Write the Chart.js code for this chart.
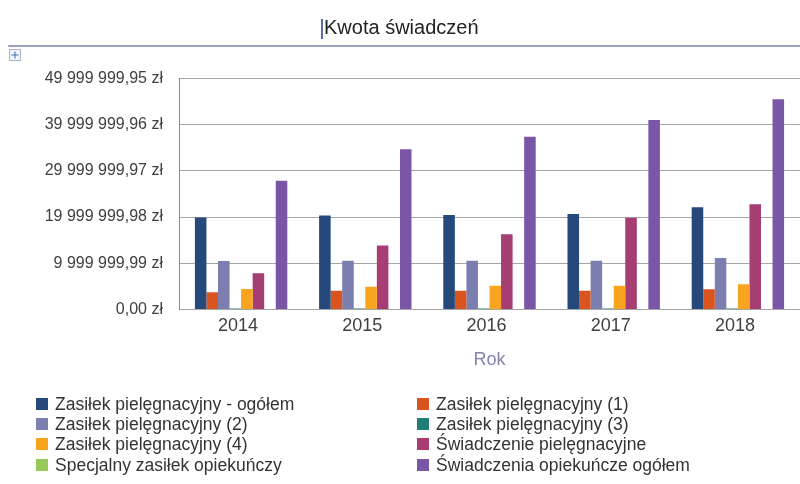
<!DOCTYPE html>
<html>
<head>
<meta charset="utf-8">
<script src="https://cdn.jsdelivr.net/npm/chart.js@4/dist/chart.umd.min.js"></script>
<style>
  html, body { margin: 0; padding: 0; background: #fff; }
  #wrap { position: relative; width: 800px; height: 484px; overflow: hidden; }
  #legend { position: absolute; left: 0; top: 0; width: 800px; height: 484px; pointer-events: none;
            font-family: "Liberation Sans", Arial, sans-serif; font-size: 17.5px; color: #333; }
  .li { position: absolute; height: 20px; line-height: 20px; white-space: nowrap; }
  .li .bx { position: absolute; left: 0; top: 4px; width: 12px; height: 12px; }
  .li .tx { position: absolute; left: 19px; top: 0; }
</style>
</head>
<body>
<div id="wrap">
  <canvas id="c" width="800" height="484"></canvas>
  <div id="legend"></div>
</div>
<script>
const categories = ['2014', '2015', '2016', '2017', '2018'];
const seriesNames = [
  'Zasiłek pielęgnacyjny - ogółem',
  'Zasiłek pielęgnacyjny (1)',
  'Zasiłek pielęgnacyjny (2)',
  'Zasiłek pielęgnacyjny (3)',
  'Zasiłek pielęgnacyjny (4)',
  'Świadczenie pielęgnacyjne',
  'Specjalny zasiłek opiekuńczy',
  'Świadczenia opiekuńcze ogółem'
];
const zpOgolem   = [19900000, 20350000, 20450000, 20650000, 22100000];
const zp1        = [3720000, 4050000, 4070000, 4070000, 4370000];
const zp2        = [10500000, 10550000, 10550000, 10550000, 11140000];
const zp3        = [200000, 200000, 200000, 200000, 200000];
const zp4        = [4430000, 4930000, 5150000, 5150000, 5450000];
const swPiel     = [7830000, 13850000, 16260000, 19850000, 22750000];
const specZas    = [0, 0, 0, 0, 0];
const swOgolem   = [27850000, 34650000, 37370000, 40980000, 45460000];
const yTicks = [0, 9999999.99, 19999999.98, 29999999.97, 39999999.96, 49999999.95];

const colors = ['#24497a', '#d9541f', '#7a7fb0', '#1e7d76', '#f9a41f', '#a63d73', '#98c75a', '#7a57a6'];
const seriesData = [zpOgolem, zp1, zp2, zp3, zp4, swPiel, specZas, swOgolem];

function fmtPLN(v) {
  const s = v.toFixed(2);
  let [intPart, dec] = s.split('.');
  intPart = intPart.replace(/\B(?=(\d{3})+(?!\d))/g, ' ');
  return intPart + ',' + dec + ' zł';
}

const deco = {
  id: 'deco',
  beforeDraw(chart) {
    const ctx = chart.ctx;
    ctx.save();
    // frame line
    ctx.strokeStyle = '#9ea1bb';
    ctx.lineWidth = 2;
    ctx.lineCap = 'round';
    ctx.beginPath();
    ctx.moveTo(9, 46);
    ctx.lineTo(800, 46);
    ctx.stroke();
    // move handle icon
    ctx.lineCap = 'butt';
    ctx.fillStyle = '#f1f4fa';
    ctx.fillRect(9.5, 49.5, 11, 11);
    ctx.strokeStyle = '#aab4cc';
    ctx.lineWidth = 1;
    ctx.strokeRect(9.5, 49.5, 11, 11);
    ctx.strokeStyle = '#3f6fb5';
    ctx.beginPath();
    ctx.moveTo(15, 51.5); ctx.lineTo(15, 58.5);
    ctx.moveTo(11.5, 55); ctx.lineTo(18.5, 55);
    ctx.stroke();
    // text cursor before title
    ctx.strokeStyle = '#1f3f8f';
    ctx.lineWidth = 1.5;
    ctx.beginPath();
    ctx.moveTo(322, 19);
    ctx.lineTo(322, 39);
    ctx.stroke();
    ctx.restore();
  }
};

new Chart(document.getElementById('c'), {
  type: 'bar',
  data: {
    labels: categories,
    datasets: seriesNames.map((n, i) => ({
      label: n,
      data: seriesData[i],
      backgroundColor: colors[i],
      borderWidth: 0,
      categoryPercentage: 0.744,
      barPercentage: 1.0
    }))
  },
  options: {
    responsive: false,
    animation: false,
    events: [],
    layout: { padding: { top: 0, left: 0, right: -2.5, bottom: 104.5 } },
    plugins: {
      legend: { display: false },
      tooltip: { enabled: false },
      title: {
        display: true,
        text: 'Kwota świadczeń',
        color: '#222',
        font: { family: '"Liberation Sans", Arial, sans-serif', size: 20, weight: 'normal', lineHeight: 1.2 },
        padding: { top: 16, bottom: 38.3 }
      }
    },
    scales: {
      x: {
        offset: true,
        grid: { display: false, drawTicks: false },
        border: { display: false },
        ticks: {
          color: '#404040',
          padding: 6,
          labelOffset: -3,
          font: { family: '"Liberation Sans", Arial, sans-serif', size: 18 }
        },
        title: {
          display: true,
          text: 'Rok',
          color: '#8284aa',
          font: { family: '"Liberation Sans", Arial, sans-serif', size: 18 },
          padding: { top: 4, bottom: 8.7 }
        },
        afterFit(scale) { scale.height = 70; }
      },
      y: {
        min: 0,
        max: 49999999.95,
        grid: { color: '#a6a6a6', lineWidth: 1, drawTicks: false },
        border: { display: true, color: '#8a8a8a', width: 1 },
        afterBuildTicks(scale) { scale.ticks = yTicks.map(v => ({ value: v })); },
        ticks: {
          color: '#404040',
          padding: 16,
          font: { family: '"Liberation Sans", Arial, sans-serif', size: 16 },
          callback: (v) => fmtPLN(v)
        },
        afterFit(scale) { scale.width = 179; }
      }
    }
  },
  plugins: [deco]
});

// legend (two columns, row-wise order)
const legend = document.getElementById('legend');
const colX = [36, 417];
const rowY = [394, 413.5, 434, 455];
seriesNames.forEach((n, i) => {
  const d = document.createElement('div');
  d.className = 'li';
  d.style.left = colX[i % 2] + 'px';
  d.style.top = rowY[Math.floor(i / 2)] + 'px';
  d.innerHTML = '<span class="bx" style="background:' + colors[i] + '"></span><span class="tx"></span>';
  d.querySelector('.tx').textContent = n;
  legend.appendChild(d);
});
</script>
</body>
</html>
